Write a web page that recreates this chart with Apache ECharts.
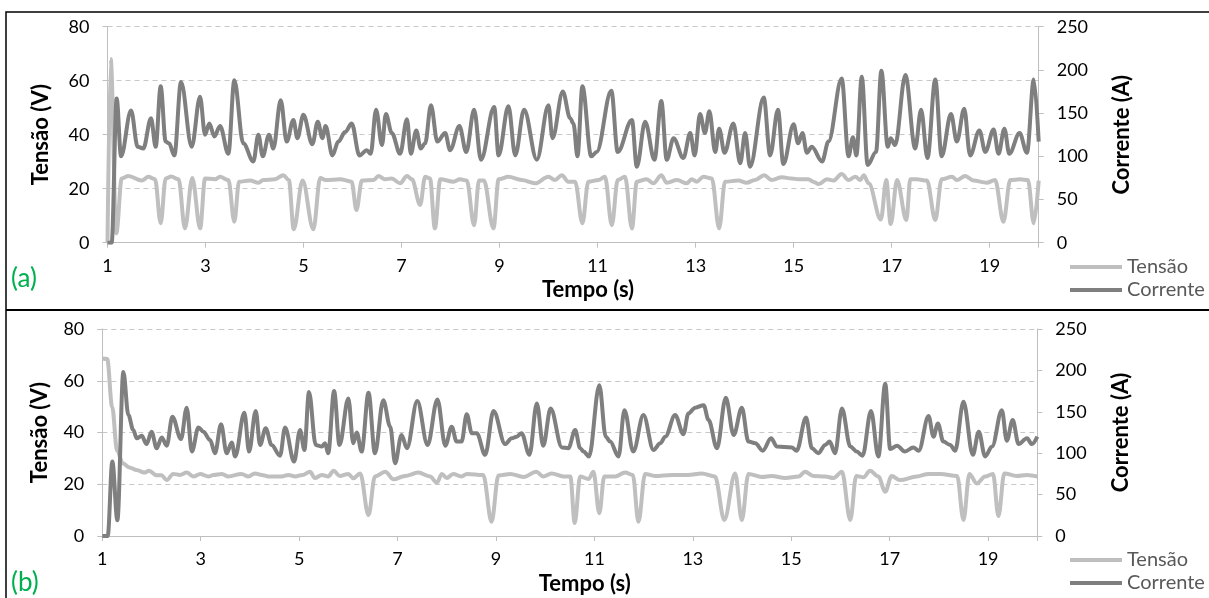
<!DOCTYPE html>
<html>
<head>
<meta charset="utf-8">
<script src="https://cdn.jsdelivr.net/npm/echarts@6/dist/echarts.min.js"></script>
<style>
  html, body { margin: 0; padding: 0; background: #fff; }
  #chart { width: 1209px; height: 598px; }
</style>
</head>
<body>
<div id="chart"></div>
<script>
// eixo x e ticks
var xTicks = [1, 3, 5, 7, 9, 11, 13, 15, 17, 19];
var tensaoTicks = [0, 20, 40, 60, 80];
var correnteTicks = [0, 50, 100, 150, 200, 250];

// (a) Tensão (V)
var aTenT = [1.0, 1.065, 1.18, 1.29, 1.425, 1.7, 1.833, 1.97, 2.085, 2.187, 2.3, 2.45, 2.58, 2.73, 2.89, 2.99, 3.194, 3.296, 3.466, 3.588, 3.684, 3.908, 4.078, 4.18, 4.418, 4.588, 4.7, 4.8, 4.98, 5.2, 5.34, 5.45, 5.745,
  5.98, 6.08, 6.19, 6.43, 6.53, 6.66, 6.8, 6.97, 7.11, 7.21, 7.38, 7.48, 7.58, 7.68, 7.79, 8.06, 8.19, 8.33, 8.48, 8.58, 8.68, 8.875, 8.98, 9.18, 9.45, 9.725, 9.997, 10.13, 10.27, 10.4, 10.54,
  10.69, 10.81, 11.02, 11.15, 11.29, 11.41, 11.56, 11.7, 11.8, 12.0, 12.14, 12.3, 12.41, 12.62, 12.82, 12.92, 13.02, 13.16, 13.33, 13.48, 13.6, 13.87, 14.04, 14.21, 14.4, 14.55, 14.76, 14.96, 15.1,
  15.3, 15.4, 15.51, 15.68, 15.81, 15.98, 16.12, 16.26, 16.36, 16.43, 16.53, 16.78, 16.89, 16.98, 17.11, 17.3, 17.38, 17.51, 17.72, 17.89, 18.02, 18.23, 18.33, 18.5, 18.67, 18.94, 19.11, 19.28, 19.42, 19.62, 19.78, 19.9, 20.0];
var aTenV = [0, 68, 3.5, 23.8, 24.7, 23, 24.4, 23.5, 7.2, 23.8, 24.5, 23.5, 5.3, 24, 5.3, 23.8, 23.5, 24.4, 23.2, 7.8, 22.6, 23, 22.2, 23.2, 23.5, 25, 23.2, 5, 23, 5, 24, 23.2, 23.5,
  22.6, 12.1, 23, 23.2, 24.7, 23.5, 23.8, 22, 24.7, 23.5, 14, 24.4, 23.8, 5.3, 23.5, 22.6, 23.5, 23, 6.5, 23, 23, 5.3, 23.5, 24.4, 23.2, 22, 24.4, 23.2, 25, 22.6, 22.6,
  7.2, 22.6, 23.2, 24.4, 6.5, 23.2, 24.4, 5.3, 22.6, 23.5, 22, 25, 22.2, 23.2, 22, 23.5, 22.6, 24.4, 23.8, 5.3, 22.6, 23, 22.2, 23.2, 25, 23.2, 24.2, 23.8, 23.5,
  23.5, 22.6, 21.7, 23.5, 23, 25.4, 23.2, 24.4, 23.2, 25, 22, 8.6, 23.2, 6.9, 23.2, 8.4, 23.5, 23.5, 23, 8.4, 23.5, 24.4, 23.2, 24.7, 23, 22.2, 23.2, 7.8, 23.2, 23.5, 23.2, 7.2, 23];

// (a) Corrente (A)
var aCorT = [1.0, 1.085, 1.187, 1.276, 1.48, 1.616, 1.73, 1.888, 1.983, 2.085, 2.187, 2.255, 2.364, 2.5, 2.718, 2.888, 2.99, 3.078, 3.18, 3.296, 3.466, 3.588, 3.77, 3.976, 4.078, 4.167, 4.296, 4.384, 4.534, 4.656, 4.793, 4.874, 4.997, 5.18, 5.29, 5.384, 5.45, 5.589,
  5.71, 5.847, 5.983, 6.14, 6.29, 6.37, 6.48, 6.6, 6.68, 6.8, 6.97, 7.11, 7.19, 7.3, 7.39, 7.48, 7.6, 7.73, 7.89, 7.99, 8.18, 8.32, 8.48, 8.62, 8.89, 8.98, 9.18, 9.32, 9.5, 9.76, 9.997, 10.08, 10.29, 10.44, 10.507,
  10.589, 10.69, 10.87, 10.98, 11.28, 11.41, 11.7, 11.8, 11.97, 12.16, 12.3, 12.41, 12.55, 12.75, 12.89, 12.98, 13.09, 13.19, 13.28, 13.4, 13.48, 13.59, 13.77, 13.91, 14.01, 14.11, 14.39, 14.52, 14.68, 14.79, 15.0, 15.09, 15.18,
  15.27, 15.37, 15.58, 15.71, 15.98, 16.12, 16.21, 16.28, 16.39, 16.51, 16.68, 16.79, 16.92, 16.98, 17.07, 17.28, 17.48, 17.6, 17.73, 17.89, 18.02, 18.21, 18.33, 18.48, 18.6, 18.79, 18.91, 19.08, 19.18, 19.3, 19.4, 19.61, 19.76, 19.9, 20.0];
var aCorA = [0, 0, 167, 100, 153, 111, 109, 144, 111, 181, 117, 115, 101, 186, 111, 169, 125, 138, 123, 135, 103, 188, 115, 94, 125, 100, 125, 109, 165, 117, 142, 121, 148, 114, 140, 121, 135, 101,
  117, 128, 138, 101, 107, 103, 154, 113, 149, 127, 103, 143, 103, 130, 109, 115, 159, 117, 127, 107, 135, 105, 154, 96, 157, 101, 158, 101, 154, 96, 159, 121, 175, 144, 138,
  100, 181, 100, 105, 176, 105, 142, 88, 140, 96, 164, 96, 121, 98, 127, 101, 149, 127, 152, 105, 132, 104, 138, 92, 127, 88, 168, 101, 154, 91, 137, 115, 127,
  104, 111, 94, 117, 190, 100, 122, 101, 192, 90, 105, 199, 111, 121, 113, 194, 109, 154, 98, 189, 100, 149, 117, 155, 101, 130, 105, 131, 103, 132, 103, 127, 104, 189, 117];

// (b) Tensão (V)
var bTenT = [1.0, 1.1, 1.2, 1.3, 1.42, 1.55, 1.7, 1.85, 1.95, 2.1, 2.2, 2.31, 2.44, 2.58, 2.715, 2.85, 2.99, 3.155, 3.26, 3.43, 3.56, 3.83, 3.97, 4.1, 4.24, 4.375, 4.65, 4.78, 4.92, 5.07, 5.22, 5.32, 5.46, 5.59, 5.7, 5.83,
  6.0, 6.1, 6.24, 6.41, 6.54, 6.75, 6.92, 7.15, 7.42, 7.66, 7.8, 7.9, 8.0, 8.13, 8.3, 8.41, 8.74, 8.91, 9.05, 9.29, 9.56, 9.82, 9.96, 10.13, 10.37, 10.51, 10.6,
  10.71, 10.88, 10.98, 11.1, 11.2, 11.42, 11.625, 11.78, 11.895, 12.03, 12.23, 12.57, 12.9, 13.18, 13.45, 13.64, 13.86, 13.996, 14.13, 14.4, 14.6, 14.88, 15.15, 15.28,
  15.45, 15.69, 15.86, 16.03, 16.2, 16.32, 16.47, 16.6, 16.77, 16.91, 17.04, 17.21, 17.55, 17.79, 18.03, 18.37, 18.5, 18.62, 18.77, 18.94, 19.1, 19.21, 19.33, 19.58, 19.79, 20.0];
var bTenV = [68.6, 68.4, 50, 33, 28, 26.5, 25.5, 24.5, 25.2, 23.5, 23.5, 21.6, 24, 23.6, 24.5, 23, 24, 23, 23.6, 24, 23, 24, 23, 24.2, 23.6, 23, 23, 23.6, 23, 23.6, 24.8, 22.4, 23.6, 23, 25.2, 23.2,
  24, 22.3, 24.2, 8.1, 23, 24.8, 21.9, 23.2, 24.5, 23, 20.6, 24, 22.4, 24, 23, 24, 23.6, 5.5, 23.4, 24, 22.8, 24.8, 23, 24.2, 23, 23, 5,
  23, 22, 24.8, 8.8, 23, 23, 24.5, 23.6, 5.5, 24, 23.2, 23.6, 23.6, 24.2, 23, 6.2, 24.2, 6.2, 24, 22.8, 23.2, 22.4, 23, 24.8,
  23.2, 23, 22.4, 24.8, 6.2, 23.2, 22.7, 25.2, 23, 17.1, 23.2, 21.6, 23, 24, 24, 23.2, 6.2, 24, 20.3, 23, 24, 7.7, 24.2, 23.2, 23.6, 23];

// (b) Corrente (A)
var bCorT = [1.0, 1.11, 1.204, 1.306, 1.428, 1.53, 1.63, 1.7, 1.8, 1.9, 2.0, 2.105, 2.207, 2.309, 2.424, 2.6, 2.715, 2.82, 2.953, 3.054, 3.19, 3.29, 3.413, 3.528, 3.63, 3.7, 3.887, 3.982, 4.118, 4.206, 4.32, 4.44, 4.612, 4.714, 4.897, 5.019, 5.107, 5.2, 5.337, 5.46, 5.527, 5.59, 5.71,
  5.82, 6.0, 6.1, 6.17, 6.27, 6.41, 6.54, 6.71, 6.85, 6.95, 7.08, 7.19, 7.4, 7.61, 7.81, 7.97, 8.1, 8.2, 8.3, 8.406, 8.51, 8.61, 8.78, 8.95, 9.185, 9.32, 9.42, 9.52, 9.68, 9.83, 9.96, 10.11, 10.34, 10.47, 10.61,
  10.71, 10.78, 10.89, 11.1, 11.23, 11.32, 11.49, 11.61, 11.79, 11.996, 12.2, 12.34, 12.44, 12.64, 12.81, 12.91, 13.05, 13.22, 13.32, 13.49, 13.67, 13.83, 13.996, 14.13, 14.27, 14.42, 14.59, 14.71, 15.01, 15.11, 15.3,
  15.42, 15.55, 15.69, 15.78, 15.89, 16.03, 16.2, 16.33, 16.45, 16.62, 16.77, 16.91, 17.01, 17.15, 17.31, 17.48, 17.59, 17.79, 17.89, 17.98, 18.09, 18.23, 18.33, 18.5, 18.69, 18.81, 18.94, 19.08, 19.28, 19.38, 19.5, 19.62, 19.79, 19.89, 20.0];
var bCorA = [0, 0, 90, 19, 198, 146, 128, 118, 121, 111, 126, 106, 119, 109, 144, 117, 155, 102, 131, 126, 116, 100, 135, 100, 113, 96, 149, 102, 151, 110, 130, 110, 97, 131, 90, 128, 104, 174, 110, 108, 112, 100, 175,
  110, 166, 112, 125, 102, 173, 100, 164, 132, 88, 122, 106, 163, 110, 165, 109, 132, 114, 114, 147, 124, 124, 98, 151, 111, 118, 120, 124, 98, 160, 109, 154, 107, 106, 128,
  106, 102, 96, 182, 120, 114, 96, 152, 102, 146, 104, 112, 120, 146, 123, 148, 155, 158, 140, 106, 167, 122, 155, 114, 112, 103, 118, 108, 107, 103, 143,
  106, 100, 110, 114, 100, 154, 108, 102, 97, 151, 96, 184, 105, 109, 102, 107, 103, 145, 120, 136, 114, 110, 103, 162, 98, 126, 96, 108, 152, 115, 140, 111, 118, 111, 120];

function pares(ts, vs) {
  var out = [];
  for (var i = 0; i < ts.length; i++) out.push([ts[i], vs[i]]);
  return out;
}

var fonte = 'Lato, "DejaVu Sans", sans-serif';
var cinzaEixo = '#BFBFBF';
var titulo = { fontFamily: fonte, fontWeight: 'bold', fontSize: 22, color: '#000' };

function eixoX(idx, gap) {
  return {
    type: 'value', gridIndex: idx, min: 1, max: 20, interval: 2,
    name: 'Tempo (s)', nameLocation: 'middle', nameGap: gap,
    nameTextStyle: Object.assign({ padding: [0, 0, 0, 30] }, titulo),
    axisLine: { lineStyle: { color: cinzaEixo } },
    axisTick: { show: true, length: 5, lineStyle: { color: cinzaEixo } },
    axisLabel: {
      fontFamily: fonte, fontSize: 18, color: '#000', margin: 14,
      formatter: function (v) { return xTicks.indexOf(v) >= 0 ? String(v) : ''; }
    },
    splitLine: { show: false }
  };
}

function eixoTensao(idx, gap) {
  return {
    type: 'value', gridIndex: idx, position: 'left', min: 0, max: 80, interval: 20,
    name: 'Tensão (V)', nameLocation: 'middle', nameGap: gap, nameRotate: 90,
    nameTextStyle: titulo,
    axisLine: { show: true, lineStyle: { color: cinzaEixo } },
    axisTick: { show: true, length: 5, lineStyle: { color: cinzaEixo } },
    axisLabel: { fontFamily: fonte, fontSize: 18, color: '#000', margin: 18,
      formatter: function (v) { return tensaoTicks.indexOf(v) >= 0 ? String(v) : ''; } },
    splitLine: { show: true, lineStyle: { color: '#C8C8C8', type: [5, 4], width: 1 } }
  };
}

function eixoCorrente(idx, gap) {
  return {
    type: 'value', gridIndex: idx, position: 'right', min: 0, max: 250, interval: 50,
    name: 'Corrente (A)', nameLocation: 'middle', nameGap: gap, nameRotate: 90,
    nameTextStyle: titulo,
    axisLine: { show: true, lineStyle: { color: cinzaEixo } },
    axisTick: { show: true, length: 5, lineStyle: { color: cinzaEixo } },
    axisLabel: { fontFamily: fonte, fontSize: 18, color: '#000', margin: 18,
      formatter: function (v) { return correnteTicks.indexOf(v) >= 0 ? String(v) : ''; } },
    splitLine: { show: false }
  };
}

function linha(nome, dados, xi, yi, cor, z) {
  return {
    name: nome, type: 'line', xAxisIndex: xi, yAxisIndex: yi,
    data: dados, smooth: 0.35, smoothMonotone: 'x',
    showSymbol: false, symbol: 'none', z: z,
    lineStyle: { color: cor, width: 4 },
    itemStyle: { color: cor },
    animation: false
  };
}

function legenda(top) {
  return {
    orient: 'vertical', left: 1070, top: top, padding: 0,
    itemWidth: 52, itemHeight: 4, itemGap: 3,
    icon: 'rect', selectedMode: false,
    textStyle: { fontFamily: fonte, fontSize: 20, color: '#595959' },
    data: ['Tensão', 'Corrente']
  };
}

var myChart = echarts.init(document.getElementById('chart'));
var option = {
  backgroundColor: '#fff',
  animation: false,
  grid: [
    { left: 107.5, right: 170.3, top: 26.7, height: 216 },
    { left: 102.3, right: 171.7, top: 329, height: 207 }
  ],
  xAxis: [eixoX(0, 36), eixoX(1, 37)],
  yAxis: [eixoTensao(0, 56), eixoCorrente(0, 72), eixoTensao(1, 51), eixoCorrente(1, 73)],
  legend: [legenda(257), legenda(550)],
  series: [
    linha('Tensão', pares(aTenT, aTenV), 0, 0, '#BFBFBF', 2),
    linha('Corrente', pares(aCorT, aCorA), 0, 1, '#7F7F7F', 3),
    linha('Tensão', pares(bTenT, bTenV), 1, 2, '#BFBFBF', 2),
    linha('Corrente', pares(bCorT, bCorA), 1, 3, '#7F7F7F', 3)
  ],
  graphic: [
    { type: 'rect', shape: { x: 6, y: 12, width: 1215, height: 600 },
      style: { fill: 'none', stroke: '#000', lineWidth: 1.5 }, silent: true },
    { type: 'line', shape: { x1: 6, y1: 310, x2: 1209, y2: 310 },
      style: { stroke: '#000', lineWidth: 2 }, silent: true },
    { type: 'text', left: 11, top: 266,
      style: { text: '(a)', fontFamily: fonte, fontSize: 26, fill: '#00B050' } },
    { type: 'text', left: 11, top: 570,
      style: { text: '(b)', fontFamily: fonte, fontSize: 26, fill: '#00B050' } }
  ]
};
myChart.setOption(option);
</script>
</body>
</html>
